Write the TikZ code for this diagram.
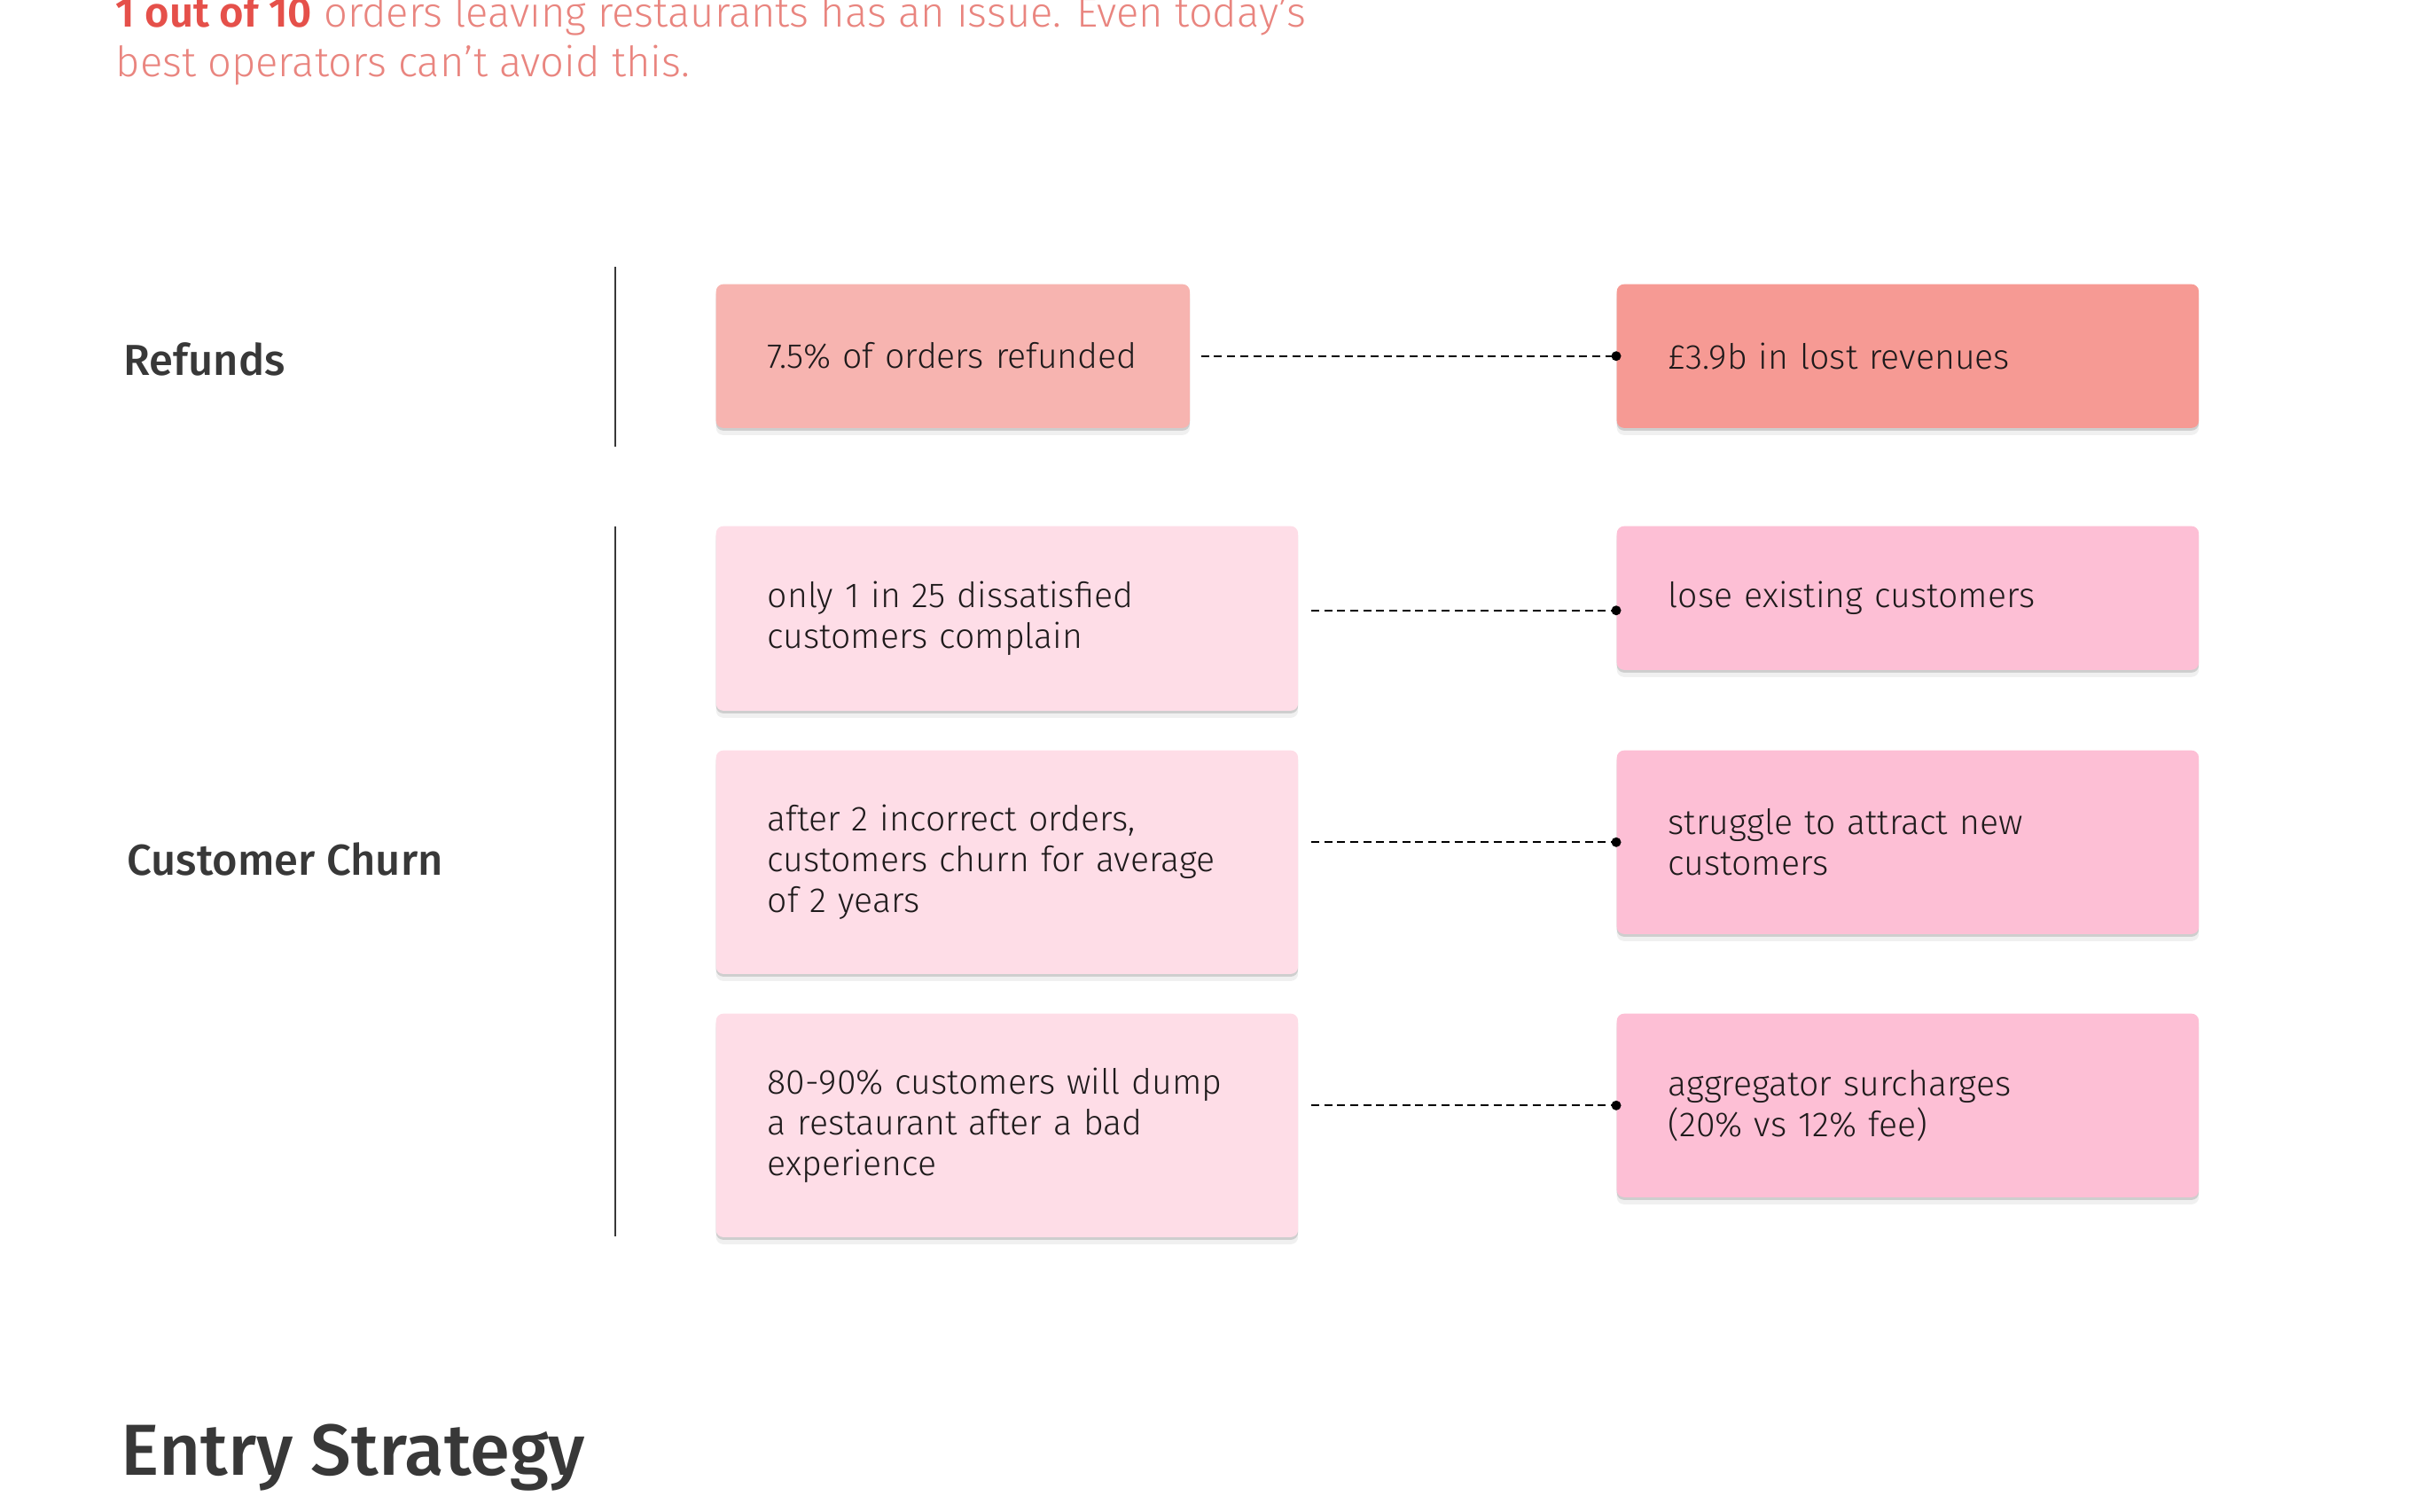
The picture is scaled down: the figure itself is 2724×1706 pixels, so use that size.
\documentclass[tikz,border=0pt]{standalone}
\usepackage{fontspec}
\IfFontExistsTF{Fira Sans SemiBold}
  {\setmainfont{Fira Sans Light}[BoldFont={Fira Sans SemiBold}]}
  {\setmainfont{Fira Sans Light}[BoldFont={Fira Sans Medium}]}
\newfontfamily\headfont{Fira Sans Medium}
\usetikzlibrary{shadows}
\definecolor{refundlight}{HTML}{F7B4B0}
\definecolor{refunddark}{HTML}{F69A94}
\definecolor{churnlight}{HTML}{FEDDE7}
\definecolor{churndark}{HTML}{FDBFD5}
\definecolor{titlered}{HTML}{E5504A}
\definecolor{titlesalmon}{HTML}{E9857F}
\definecolor{headgray}{HTML}{383838}
\definecolor{ink}{HTML}{1E1A1B}
\tikzset{
  card/.style={anchor=north west, rounded corners=0.08cm, inner xsep=0.58cm, inner ysep=0pt,
    align=left, text=ink, font=\fontsize{11.15}{13.1}\selectfont,
    drop shadow={shadow xshift=0cm, shadow yshift=-0.08cm, opacity=0.06, fill=black},
    drop shadow={shadow xshift=0cm, shadow yshift=-0.03cm, opacity=0.25, fill=black!60}},
  link/.style={line width=0.02cm, dash pattern=on 0.09cm off 0.057cm},
  rowlabel/.style={anchor=base west, inner sep=0pt, text=headgray, font=\headfont\fontsize{13.9}{16}\selectfont},
  divider/.style={line width=0.02cm, headgray},
}
\begin{document}
\begin{tikzpicture}[x=0.01cm, y=-0.01cm]
    \useasboundingbox (0, 0) rectangle (2724, 1706);
    % intro text, cut by the top edge
    \node[anchor=base west, inner sep=0pt, text=titlesalmon, font=\fontsize{13.4}{15.9}\selectfont] (intro1) at (130, 31) {\textbf{\color{titlered}1 out of 10} orders leaving restaurants has an issue. Even today’s};
    \node[anchor=base west, inner sep=0pt, text=titlesalmon, font=\fontsize{13.4}{15.9}\selectfont] (intro2) at (130, 87) {best operators can’t avoid this.};

    % row labels and dividers
    \node[rowlabel] (refunds) at (139, 423) {Refunds};
    \node[rowlabel] (churn) at (143, 987) {Customer Churn};
    \draw[divider] (694, 301) -- (694, 504);
    \draw[divider] (694, 594) -- (694, 1395);

    % refunds
    \node[card, fill=refundlight, text width=4.18cm, minimum height=1.62cm] (refunded) at (807, 320) {\mbox{7.5\% of orders refunded}};
    \node[card, fill=refunddark, text width=5.4cm, minimum height=1.62cm] (revenue) at (1823, 320) {£3.9b in lost revenues};

    % customer churn
    \node[card, fill=churnlight, text width=5.4cm, minimum height=2.08cm] (complain) at (807, 593) {only 1 in 25 dissatisfied\\customers complain};
    \node[card, fill=churnlight, text width=5.4cm, minimum height=2.52cm] (incorrect) at (807, 846) {after 2 incorrect orders,\\customers churn for average\\of 2 years};
    \node[card, fill=churnlight, text width=5.4cm, minimum height=2.52cm] (dump) at (807, 1143) {80-90\% customers will dump\\a restaurant after a bad\\experience};
    \node[card, fill=churndark, text width=5.4cm, minimum height=1.62cm] (lose) at (1823, 593) {lose existing customers};
    \node[card, fill=churndark, text width=5.4cm, minimum height=2.07cm] (attract) at (1823, 846) {struggle to attract new\\customers};
    \node[card, fill=churndark, text width=5.4cm, minimum height=2.07cm] (surcharge) at (1823, 1143) {aggregator surcharges\\(20\% vs 12\% fee)};

    % dotted links
    \coordinate (losedot) at ([yshift=-0.14cm]lose.west);
    \draw[link] ([xshift=0.12cm]refunded.east) -- (revenue.west);
    \fill (revenue.west) circle (0.055cm);
    \draw[link] ([xshift=0.14cm]complain.east |- losedot) -- (losedot);
    \fill (losedot) circle (0.055cm);
    \foreach \l/\r in {incorrect/attract, dump/surcharge}{
        \draw[link] ([xshift=0.14cm]\l.east |- \r.west) -- (\r.west);
        \fill (\r.west) circle (0.055cm);
    }

    \node[anchor=base west, inner sep=0pt, text=headgray, font=\headfont\fontsize{23.2}{27}\selectfont] (entry) at (136, 1664) {Entry Strategy};
\end{tikzpicture}
\end{document}
